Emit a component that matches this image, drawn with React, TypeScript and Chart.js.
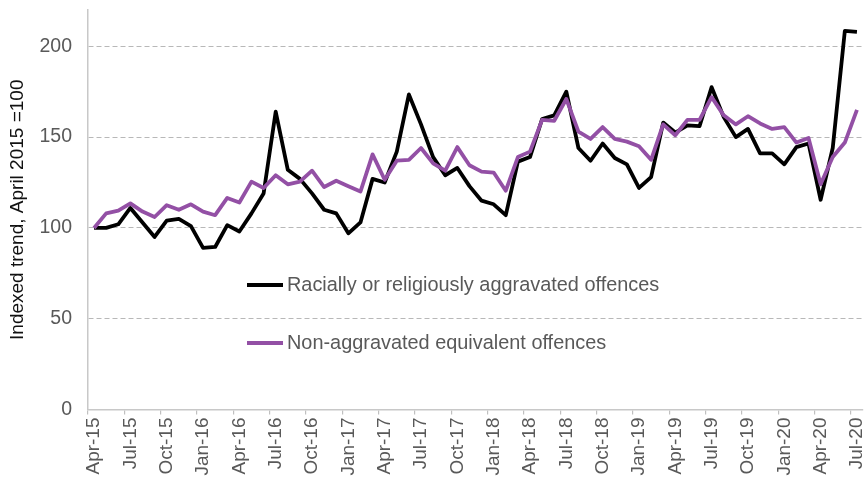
import React, { useEffect, useRef } from "react";
import { Chart, registerables } from "chart.js";

Chart.register(...registerables);

const months: string[] = [
  "Apr-15", "May-15", "Jun-15", "Jul-15", "Aug-15", "Sep-15", "Oct-15", "Nov-15", "Dec-15",
  "Jan-16", "Feb-16", "Mar-16", "Apr-16", "May-16", "Jun-16", "Jul-16", "Aug-16", "Sep-16",
  "Oct-16", "Nov-16", "Dec-16", "Jan-17", "Feb-17", "Mar-17", "Apr-17", "May-17", "Jun-17",
  "Jul-17", "Aug-17", "Sep-17", "Oct-17", "Nov-17", "Dec-17", "Jan-18", "Feb-18", "Mar-18",
  "Apr-18", "May-18", "Jun-18", "Jul-18", "Aug-18", "Sep-18", "Oct-18", "Nov-18", "Dec-18",
  "Jan-19", "Feb-19", "Mar-19", "Apr-19", "May-19", "Jun-19", "Jul-19", "Aug-19", "Sep-19",
  "Oct-19", "Nov-19", "Dec-19", "Jan-20", "Feb-20", "Mar-20", "Apr-20", "May-20", "Jun-20",
  "Jul-20",
];

const aggravated: number[] = [
  100, 100, 102, 111, 103, 95, 104, 105, 101,
  89, 89.5, 101.5, 98, 108, 119, 164, 132, 127,
  119, 110, 108, 97, 103, 127, 125, 142, 173.5,
  157, 139, 129, 133, 123, 115, 113, 107, 136.5,
  139, 160, 162, 175, 144, 137, 146.5, 138.5, 135,
  122, 128, 158, 152.5, 156.5, 156, 177.5, 161, 150,
  154.5, 141, 141, 135, 144.5, 146.5, 115.5, 144, 208.5,
  208,
];

const nonAggravated: number[] = [
  100, 108, 109.5, 113.5, 109, 106, 112.5, 110, 113,
  109, 107, 116.5, 114, 125.5, 122, 129, 124, 125.5,
  131.5, 122.5, 126, 123, 120, 140.5, 126.5, 137, 137.5,
  144, 135.5, 131.5, 144.5, 134.5, 131, 130.5, 120.5, 139,
  142, 159.5, 159, 171, 153, 149, 155.5, 149, 147.5,
  145, 137.5, 157, 151, 159.5, 159.5, 172, 162, 157,
  161.5, 157.5, 154.5, 155.5, 147, 149.5, 124, 139, 147,
  165,
];

const yTicks: number[] = [0, 50, 100, 150, 200];

const seriesNames: string[] = [
  "Racially or religiously aggravated offences",
  "Non-aggravated equivalent offences",
];

const BLACK = "#000000";
const PURPLE = "#9350a5";
const FONT = '"Liberation Sans", Arial, sans-serif';
const TEXT = "#595959";

const legendPlugin = {
  id: "innerLegend",
  afterDraw(chart: any) {
    const { ctx, chartArea } = chart;
    const items = [
      { label: seriesNames[0], color: BLACK, dy: 275 },
      { label: seriesNames[1], color: PURPLE, dy: 333 },
    ];
    ctx.save();
    ctx.font = `19.9px ${FONT}`;
    ctx.textBaseline = "middle";
    ctx.textAlign = "left";
    for (const it of items) {
      const y = chartArea.top + it.dy;
      const x0 = chartArea.left + 159;
      ctx.strokeStyle = it.color;
      ctx.lineWidth = 4;
      ctx.lineCap = "butt";
      ctx.beginPath();
      ctx.moveTo(x0, y);
      ctx.lineTo(x0 + 36, y);
      ctx.stroke();
      ctx.fillStyle = TEXT;
      ctx.fillText(it.label, x0 + 40, y + 1);
    }
    ctx.restore();
  },
};

export default function App() {
  const canvasRef = useRef<HTMLCanvasElement | null>(null);

  useEffect(() => {
    if (!canvasRef.current) return;
    const chart = new Chart(canvasRef.current, {
      type: "line",
      data: {
        labels: months,
        datasets: [
          {
            label: seriesNames[1],
            data: nonAggravated,
            borderColor: PURPLE,
            borderWidth: 3.8,
            pointRadius: 0,
            tension: 0,
            borderJoinStyle: "round",
            borderCapStyle: "butt",
            fill: false,
          },
          {
            label: seriesNames[0],
            data: aggravated,
            borderColor: BLACK,
            borderWidth: 3.8,
            pointRadius: 0,
            tension: 0,
            borderJoinStyle: "round",
            borderCapStyle: "butt",
            fill: false,
          },
        ],
      },
      options: {
        animation: false,
        responsive: true,
        maintainAspectRatio: false,
        layout: { padding: { top: 10, right: 4, left: 0, bottom: 0 } },
        plugins: {
          legend: { display: false },
          tooltip: { enabled: false },
        },
        scales: {
          x: {
            type: "category",
            offset: true,
            grid: {
              offset: true,
              drawOnChartArea: false,
              drawTicks: true,
              tickLength: 5,
              tickColor: (c: any) => (c.index % 3 === 0 ? "#c0c0c0" : "rgba(0,0,0,0)"),
              lineWidth: 1.2,
            },
            border: { display: true, color: "#c8c8c8", width: 1.5 },
            ticks: {
              autoSkip: false,
              maxRotation: 90,
              minRotation: 90,
              padding: 3,
              color: TEXT,
              font: { family: FONT, size: 19 },
              callback: function (_v: any, i: number) {
                return i % 3 === 0 ? months[i] : "";
              },
            },
            afterFit: (scale: any) => {
              scale.height = 72.5;
              scale.paddingLeft = 0;
              scale.paddingRight = 0;
            },
          },
          y: {
            min: 0,
            max: 220,
            afterBuildTicks: (scale: any) => {
              scale.ticks = yTicks.map((v) => ({ value: v }));
            },
            grid: {
              drawTicks: false,
              color: (c: any) => (c.tick && c.tick.value === 0 ? "rgba(0,0,0,0)" : "#b8b8b8"),
              lineWidth: 1,
            },
            border: { display: true, color: "#c8c8c8", width: 1.5, dash: [5, 3] },
            ticks: {
              padding: 16,
              color: TEXT,
              font: { family: FONT, size: 19.5 },
            },
            title: {
              display: true,
              text: "Indexed trend, April 2015 =100",
              color: "#111111",
              font: { family: FONT, size: 19 },
              padding: { top: 6, bottom: 0 },
            },
            afterFit: (scale: any) => {
              scale.width = 88;
              scale.paddingTop = 0;
              scale.paddingBottom = 0;
            },
          },
        },
      },
      plugins: [legendPlugin],
    } as any);
    return () => chart.destroy();
  }, []);

  return (
    <div style={{ position: "fixed", left: 0, top: 0, width: 867, height: 482, background: "#fff" }}>
      <canvas ref={canvasRef} />
    </div>
  );
}
